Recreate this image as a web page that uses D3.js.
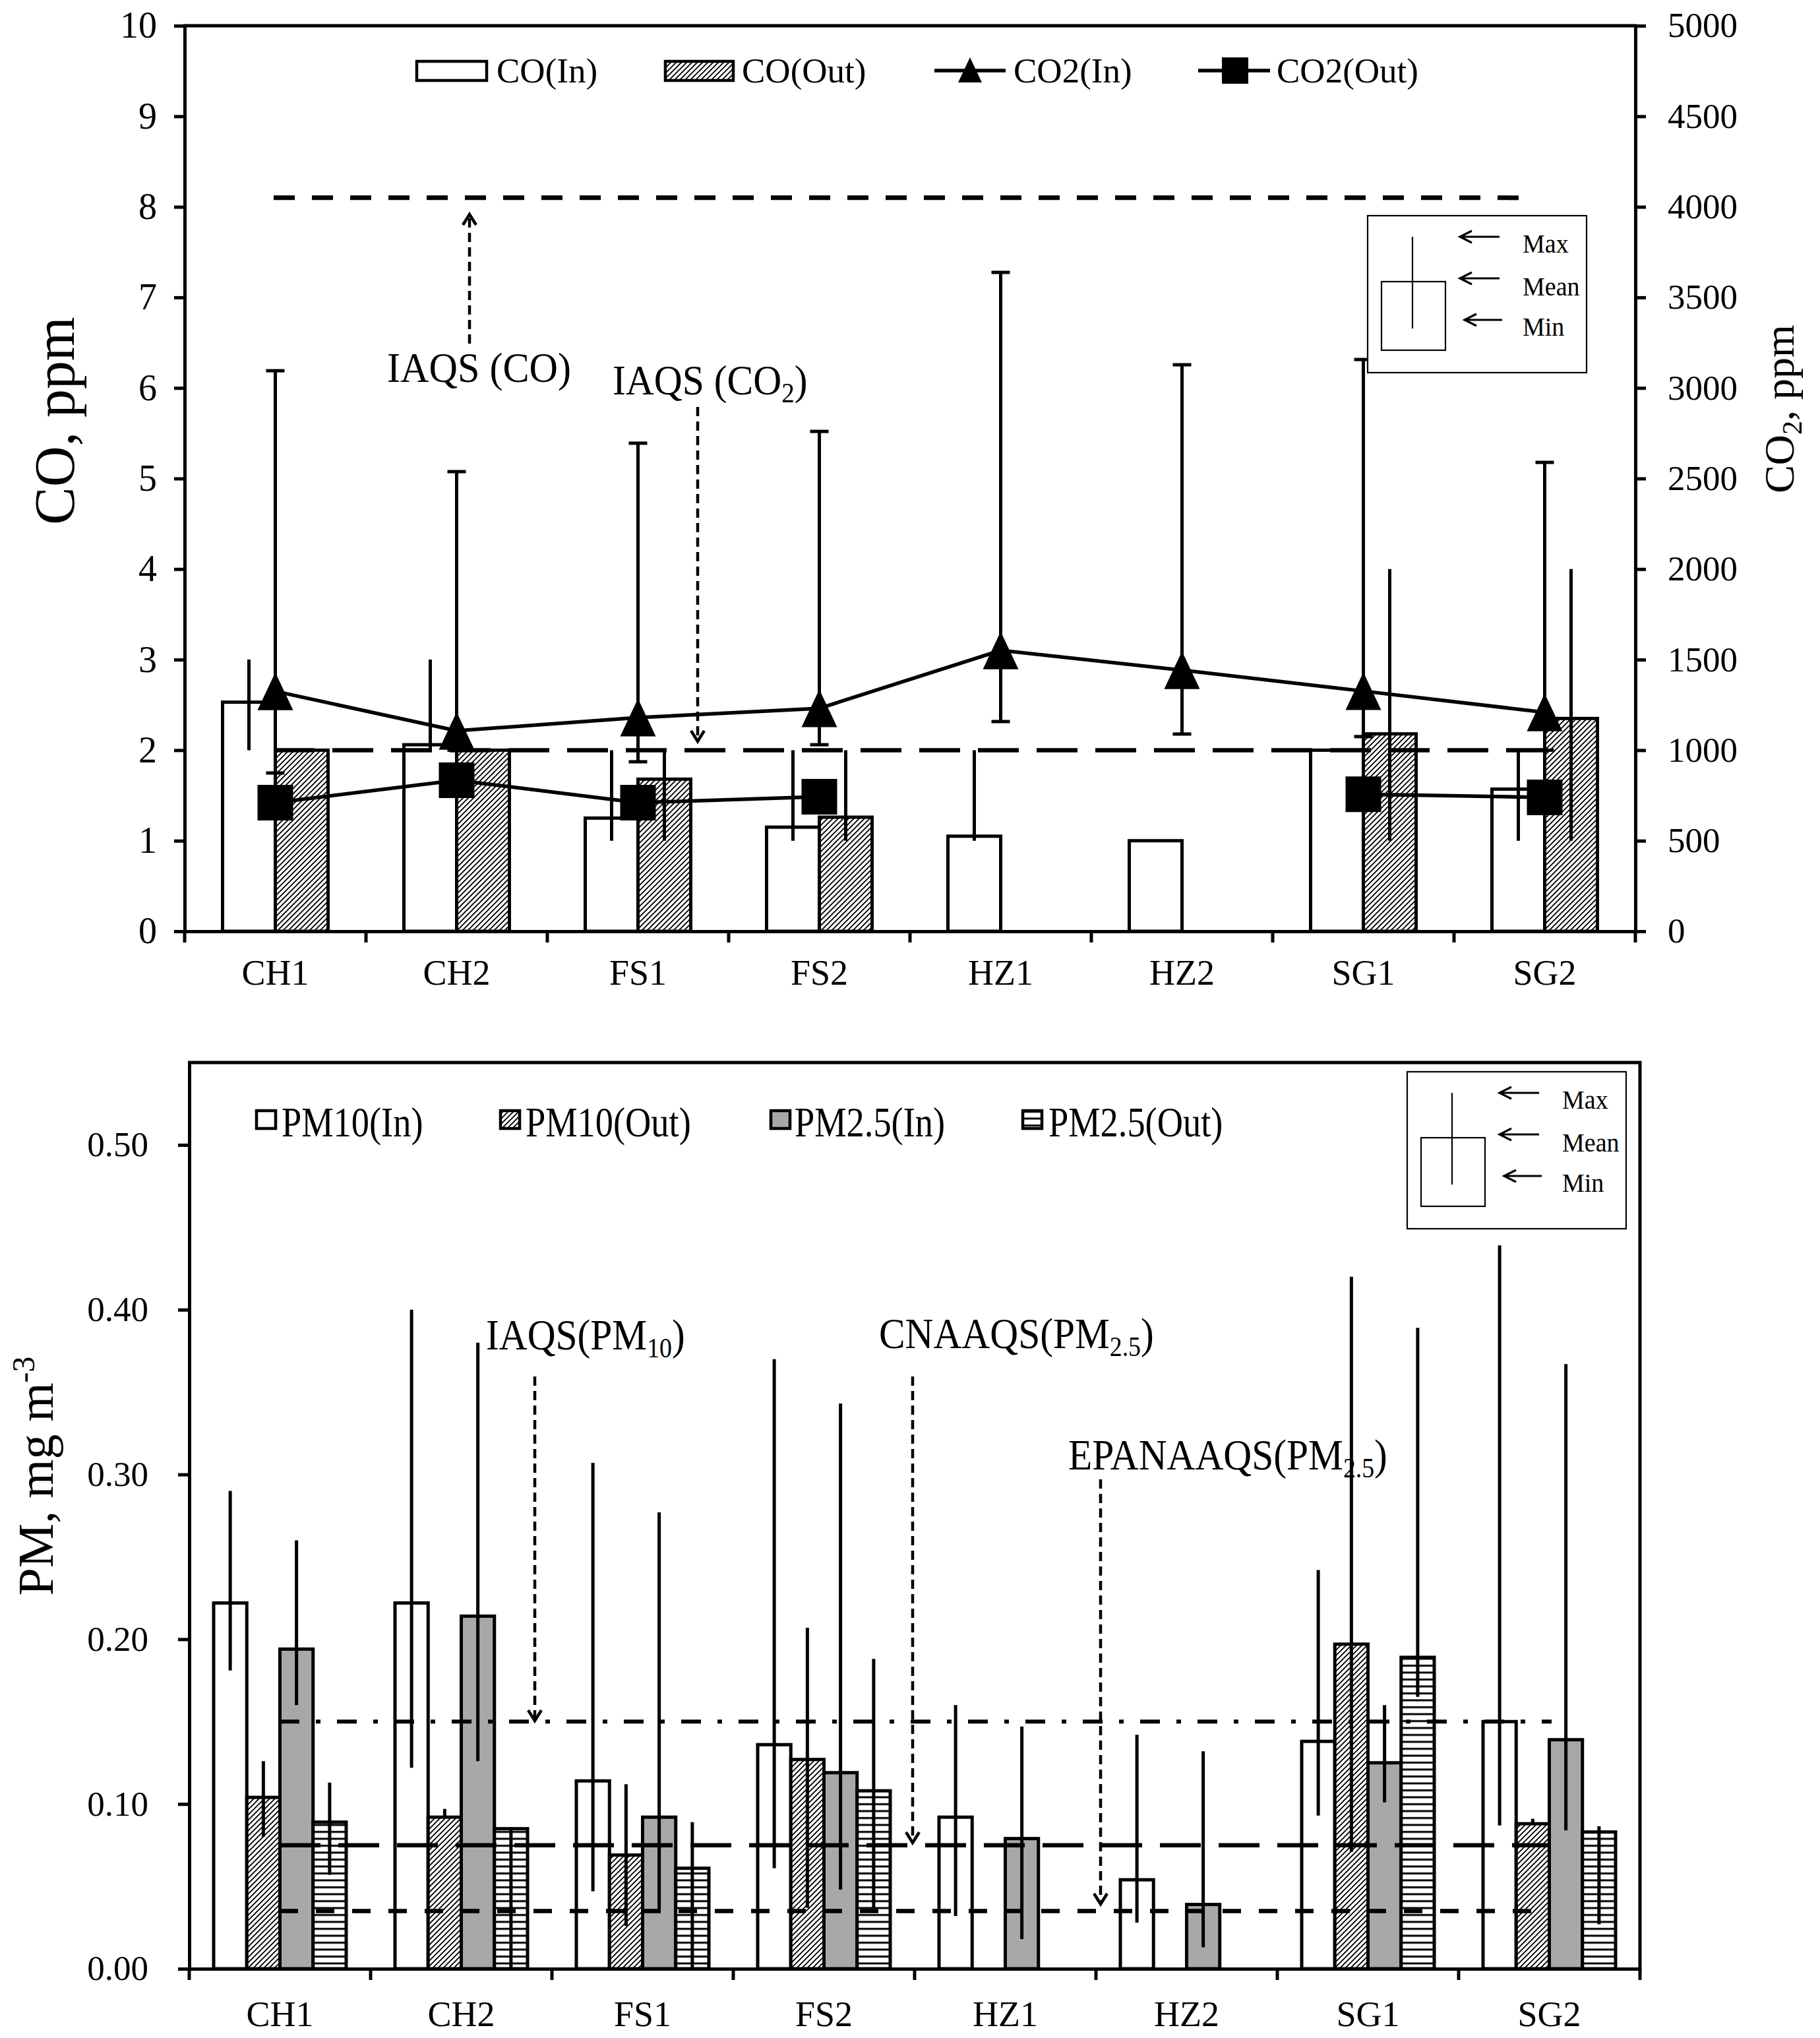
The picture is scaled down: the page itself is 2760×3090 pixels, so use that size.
<!DOCTYPE html>
<html><head><meta charset="utf-8">
<script src="https://cdn.jsdelivr.net/npm/d3@7"></script>
<style>
body{margin:0;background:#fff}
svg{display:block}
text{font-family:"Liberation Serif","Times New Roman",serif;fill:#000}
</style>
</head><body>
<svg id="c" width="2760" height="3090"></svg>
<script>
// ---------------- DATA ----------------
const categories = ["CH1","CH2","FS1","FS2","HZ1","HZ2","SG1","SG2"];

// CO, ppm (bars, left axis)
const coIn     = [2.53, 2.06, 1.25, 1.15, 1.05, 1.00, 2.00, 1.57];
const coInMax  = [3.0, 3.0, 2.0, 2.0, 2.0, null, null, 2.0];
const coInMin  = [2.0, 2.0, 1.0, 1.0, 1.0, null, null, 1.0];
const coOut    = [2.00, 2.00, 1.68, 1.26, null, null, 2.18, 2.35];
const coOutMax = [null, null, 2.0, 2.0, null, null, 4.0, 4.0];
const coOutMin = [null, null, 1.0, 1.0, null, null, 1.0, 1.0];

// CO2, ppm (lines, right axis)
const co2In    = [1325, 1107, 1180, 1231, 1551, 1442, 1326, 1209];
const co2InMax = [3095, 2538, 2695, 2760, 3638, 3128, 3157, 2589];
const co2InMin = [874, 1000, 936, 1030, 1158, 1089, 1075, 1000];
const co2Out   = [710, 834, 710, 743, null, null, 757, 739];

// PM, mg m-3
const pm10In     = [0.222, 0.222, 0.114, 0.136, 0.092, 0.054, 0.138, 0.150];
const pm10InMax  = [0.290, 0.400, 0.307, 0.370, 0.160, 0.142, 0.242, 0.439];
const pm10InMin  = [0.181, 0.122, 0.047, 0.061, 0.032, 0.028, 0.093, 0.087];
const pm10Out    = [0.104, 0.092, 0.069, 0.127, null, null, 0.197, 0.088];
const pm10OutMax = [0.126, 0.097, 0.112, 0.207, null, null, 0.420, 0.091];
const pm10OutMin = [0.080, 0.092, 0.026, 0.037, null, null, 0.071, 0.088];
const pm25In     = [0.194, 0.214, 0.092, 0.119, 0.079, 0.039, 0.125, 0.139];
const pm25InMax  = [0.260, 0.380, 0.277, 0.343, 0.147, 0.132, 0.160, 0.367];
const pm25InMin  = [0.160, 0.126, 0.035, 0.048, 0.018, 0.013, 0.101, 0.084];
const pm25Out    = [0.089, 0.085, 0.061, 0.108, null, null, 0.189, 0.083];
const pm25OutMax = [0.113, 0.086, 0.089, 0.188, null, null, 0.389, 0.0865];
const pm25OutMin = [0.057, 0.000, 0.000, 0.037, null, null, 0.165, 0.027];

// standards
const coStd = 8.1, co2Std = 1000;
const pm10Std = 0.15, cnPm25Std = 0.075, epaPm25Std = 0.035;

// ticks
const coTicks  = [0,1,2,3,4,5,6,7,8,9,10];
const co2Ticks = [0,500,1000,1500,2000,2500,3000,3500,4000,4500,5000];
const pmTicks  = [0,0.1,0.2,0.3,0.4,0.5];

// ---------------- SETUP ----------------
const svg = d3.select("#c");
svg.append("rect").attr("width",2760).attr("height",3090).attr("fill","#fff");
const defs = svg.append("defs");
const pd = defs.append("pattern").attr("id","diag").attr("patternUnits","userSpaceOnUse")
  .attr("width",8).attr("height",8);
pd.append("rect").attr("width",8).attr("height",8).attr("fill","#fff");
pd.append("path").attr("d","M-2,2 L2,-2 M0,8 L8,0 M6,10 L10,6").attr("stroke","#000").attr("stroke-width",1.9);
const ph = defs.append("pattern").attr("id","hor").attr("patternUnits","userSpaceOnUse")
  .attr("width",10).attr("height",10.5);
ph.append("rect").attr("width",10).attr("height",10.5).attr("fill","#fff");
ph.append("rect").attr("y",4).attr("width",10).attr("height",3).attr("fill","#000");
const GRAY = "#a8a8a8";

function txt(g, x, y, s, size, opt={}) {
  const sx = opt.sx || 1, rot = opt.rot || 0;
  const t = g.append("text")
    .attr("transform", `translate(${x},${y}) rotate(${rot}) scale(${sx},1)`)
    .attr("font-size", size)
    .attr("text-anchor", opt.anchor || "start");
  if (Array.isArray(s)) {
    s.forEach(p => {
      const sp = t.append("tspan").text(p.t);
      if (p.size) sp.attr("font-size", p.size);
      if (p.dy) sp.attr("dy", p.dy);
    });
  } else t.text(s);
  return t;
}
function vArrow(g, x, y1, y2) { // dashed arrow from y1 to tip y2
  g.append("line").attr("x1",x).attr("x2",x).attr("y1",y1).attr("y2",y2)
    .attr("stroke","#000").attr("stroke-width",4.5).attr("stroke-dasharray","14,8");
  const d = y2 < y1 ? 1 : -1;
  g.append("path").attr("d",`M${x-10},${y2+16*d} L${x},${y2} L${x+10},${y2+16*d}`)
    .attr("fill","none").attr("stroke","#000").attr("stroke-width",4.5);
}
function hArrow(g, x1, x2, y) { // solid arrow pointing left (tip x2)
  g.append("path").attr("d",`M${x1},${y} L${x2},${y} M${x2+18},${y-9} L${x2},${y} L${x2+18},${y+9}`)
    .attr("fill","none").attr("stroke","#000").attr("stroke-width",3.2);
}
const triType = {draw(ctx, size){ const w=Math.sqrt(size);
  ctx.moveTo(0,-w*0.53); ctx.lineTo(w/2,w*0.53); ctx.lineTo(-w/2,w*0.53); ctx.closePath(); }};
function styleAxis(g, size) {
  g.select(".domain").attr("stroke","#000").attr("stroke-width",5);
  g.selectAll(".tick line").attr("stroke","#000").attr("stroke-width",5);
  g.selectAll(".tick text").attr("font-size",size).attr("font-family","Liberation Serif").attr("fill","#000");
}
function maxMinBox(g, bx, by) {
  g.append("rect").attr("x",bx).attr("y",by).attr("width",332).attr("height",238)
    .attr("fill","#fff").attr("stroke","#000").attr("stroke-width",2.2);
  g.append("rect").attr("x",bx+21).attr("y",by+100).attr("width",97).attr("height",104)
    .attr("fill","none").attr("stroke","#000").attr("stroke-width",2.2);
  g.append("line").attr("x1",bx+68).attr("x2",bx+68).attr("y1",by+32).attr("y2",by+171)
    .attr("stroke","#000").attr("stroke-width",2.2);
  hArrow(g, bx+200, bx+140, by+32);
  hArrow(g, bx+200, bx+140, by+95);
  hArrow(g, bx+204, bx+147, by+158);
  txt(g, bx+235, by+56, "Max", 40, {sx:0.95});
  txt(g, bx+235, by+121, "Mean", 40, {sx:0.95});
  txt(g, bx+235, by+182, "Min", 40, {sx:0.95});
}

// ================= TOP CHART =================
{
  const g = svg.append("g");
  const x = d3.scaleBand().domain(categories).range([280,2480]);
  const yL = d3.scaleLinear().domain([0,10]).range([1412,39]);
  const yR = d3.scaleLinear().domain([0,5000]).range([1412,39]);
  const sub = d3.scaleBand().domain(["In","Out"]).range([-80,80]);
  const cx = c => x(c) + x.bandwidth()/2;

  const bars = [];
  categories.forEach((c,i) => {
    if (coIn[i] != null) bars.push({c, k:"In", v:coIn[i], mx:coInMax[i], mn:coInMin[i]});
    if (coOut[i] != null) bars.push({c, k:"Out", v:coOut[i], mx:coOutMax[i], mn:coOutMin[i]});
  });
  g.selectAll("rect.bar").data(bars).join("rect")
    .attr("x", d => cx(d.c)+sub(d.k)).attr("width", sub.bandwidth())
    .attr("y", d => yL(d.v)).attr("height", d => yL(0)-yL(d.v))
    .attr("fill", d => d.k==="In" ? "#fff" : "url(#diag)")
    .attr("stroke","#000").attr("stroke-width",5);

  // standards
  g.append("line").attr("x1",415).attr("x2",2316).attr("y1",yL(coStd)).attr("y2",yL(coStd))
    .attr("stroke","#000").attr("stroke-width",7).attr("stroke-dasharray","32,26");
  g.append("line").attr("x1",415).attr("x2",2355).attr("y1",yR(co2Std)).attr("y2",yR(co2Std))
    .attr("stroke","#000").attr("stroke-width",6.5).attr("stroke-dasharray","62,27");

  // CO error bars
  g.selectAll("line.err").data(bars.filter(d => d.mx != null)).join("line")
    .attr("x1", d => cx(d.c)+sub(d.k)+sub.bandwidth()/2).attr("x2", d => cx(d.c)+sub(d.k)+sub.bandwidth()/2)
    .attr("y1", d => yL(d.mx)).attr("y2", d => yL(d.mn))
    .attr("stroke","#000").attr("stroke-width",5);

  // CO2 lines
  const ln = d3.line().defined(d => d.v != null).x(d => cx(d.c)).y(d => yR(d.v));
  const inPts = categories.map((c,i) => ({c, v:co2In[i], mx:co2InMax[i], mn:co2InMin[i]}));
  const outPts = categories.map((c,i) => ({c, v:co2Out[i]}));
  g.append("path").attr("d", ln(inPts)).attr("fill","none").attr("stroke","#000").attr("stroke-width",5.5);
  g.append("path").attr("d", ln(outPts)).attr("fill","none").attr("stroke","#000").attr("stroke-width",5.5);
  // CO2 In error bars with caps
  inPts.forEach(d => {
    const X = cx(d.c);
    g.append("line").attr("x1",X).attr("x2",X).attr("y1",yR(d.mx)).attr("y2",yR(d.mn))
      .attr("stroke","#000").attr("stroke-width",5);
    [d.mx, d.mn].forEach(v => g.append("line").attr("x1",X-14).attr("x2",X+14)
      .attr("y1",yR(v)).attr("y2",yR(v)).attr("stroke","#000").attr("stroke-width",5));
  });
  g.selectAll("path.tri").data(inPts).join("path")
    .attr("d", d3.symbol().type(triType).size(54*54))
    .attr("transform", d => `translate(${cx(d.c)},${yR(d.v)})`).attr("fill","#000");
  g.selectAll("path.sq").data(outPts.filter(d => d.v != null)).join("path")
    .attr("d", d3.symbol().type(d3.symbolSquare).size(54*54))
    .attr("transform", d => `translate(${cx(d.c)},${yR(d.v)})`).attr("fill","#000");

  // axes
  const ax = g.append("g").attr("transform","translate(280,0)")
    .call(d3.axisLeft(yL).tickValues(coTicks).tickSize(16).tickPadding(26).tickFormat(d3.format("d")));
  styleAxis(ax, 56);
  const ar = g.append("g").attr("transform","translate(2480,0)")
    .call(d3.axisRight(yR).tickValues(co2Ticks).tickSize(16).tickPadding(33).tickFormat(d3.format("d")));
  styleAxis(ar, 53);
  const axb = g.append("g").attr("transform","translate(0,1412)")
    .call(d3.axisBottom(x).tickSize(0).tickSizeOuter(0));
  styleAxis(axb, 54);
  axb.selectAll(".tick text").attr("dy",null).attr("y",81);
  const bounds = categories.map(c => x(c)).concat([x.range()[1]]);
  g.selectAll("line.bt").data(bounds).join("line")
    .attr("x1",d=>d).attr("x2",d=>d).attr("y1",1412).attr("y2",1429)
    .attr("stroke","#000").attr("stroke-width",5);
  g.append("line").attr("x1",278).attr("x2",2482).attr("y1",39).attr("y2",39)
    .attr("stroke","#000").attr("stroke-width",5);

  // titles
  txt(g, 112, 638, "CO, ppm", 86, {anchor:"middle", rot:-90});
  txt(g, 2720, 620, [{t:"CO"},{t:"2",size:42,dy:12},{t:", ppm",dy:-12}], 64, {anchor:"middle", rot:-90});

  // annotations
  txt(g, 587, 579, "IAQS (CO)", 64, {sx:0.94});
  vArrow(g, 712, 521, 325);
  txt(g, 929, 598, [{t:"IAQS (CO"},{t:"2",size:42,dy:12},{t:")",dy:-12}], 64, {sx:0.93});
  vArrow(g, 1058, 617, 1124);

  // legend
  g.append("rect").attr("x",632).attr("y",93).attr("width",106).attr("height",29)
    .attr("fill","#fff").attr("stroke","#000").attr("stroke-width",4.5);
  txt(g, 753, 125, "CO(In)", 53);
  g.append("rect").attr("x",1009).attr("y",93).attr("width",103).attr("height",29)
    .attr("fill","url(#diag)").attr("stroke","#000").attr("stroke-width",4.5);
  txt(g, 1125, 125, "CO(Out)", 53);
  g.append("line").attr("x1",1417).attr("x2",1525).attr("y1",107).attr("y2",107)
    .attr("stroke","#000").attr("stroke-width",5.5);
  g.append("path").attr("d", d3.symbol().type(triType).size(36*36)()).attr("transform","translate(1471,106)");
  txt(g, 1537, 125, "CO2(In)", 53);
  g.append("line").attr("x1",1817).attr("x2",1926).attr("y1",107).attr("y2",107)
    .attr("stroke","#000").attr("stroke-width",5.5);
  g.append("path").attr("d", d3.symbol().type(d3.symbolSquare).size(40*40)()).attr("transform","translate(1873,107)");
  txt(g, 1936, 125, "CO2(Out)", 53);

  maxMinBox(g, 2074, 327);
}

// ================= BOTTOM CHART =================
{
  const g = svg.append("g");
  const x = d3.scaleBand().domain(categories).range([287,2487]);
  const y = d3.scaleLinear().domain([0,0.55]).range([2985,1611]);
  const keys = ["PM10In","PM10Out","PM25In","PM25Out"];
  const sub = d3.scaleBand().domain(keys).range([-100.5,100.5]);
  const fills = {PM10In:"#fff", PM10Out:"url(#diag)", PM25In:GRAY, PM25Out:"url(#hor)"};
  const cx = c => x(c) + x.bandwidth()/2;
  const series = {
    PM10In:[pm10In,pm10InMax,pm10InMin], PM10Out:[pm10Out,pm10OutMax,pm10OutMin],
    PM25In:[pm25In,pm25InMax,pm25InMin], PM25Out:[pm25Out,pm25OutMax,pm25OutMin]
  };
  const bars = [];
  categories.forEach((c,i) => keys.forEach(k => {
    const [m,mx,mn] = series[k];
    if (m[i] != null) bars.push({c, k, v:m[i], mx:mx[i], mn:mn[i]});
  }));
  g.selectAll("rect.bar").data(bars).join("rect")
    .attr("x", d => cx(d.c)+sub(d.k)).attr("width", sub.bandwidth())
    .attr("y", d => y(d.v)).attr("height", d => y(0)-y(d.v))
    .attr("fill", d => fills[d.k]).attr("stroke","#000").attr("stroke-width",5);

  // standards
  g.append("line").attr("x1",424).attr("x2",2353).attr("y1",y(pm10Std)).attr("y2",y(pm10Std))
    .attr("stroke","#000").attr("stroke-width",6).attr("stroke-dasharray","30,25,7,25");
  g.append("line").attr("x1",424).attr("x2",2348).attr("y1",y(cnPm25Std)).attr("y2",y(cnPm25Std))
    .attr("stroke","#000").attr("stroke-width",6.5).attr("stroke-dasharray","62,27");
  g.append("line").attr("x1",424).attr("x2",2323).attr("y1",y(epaPm25Std)).attr("y2",y(epaPm25Std))
    .attr("stroke","#000").attr("stroke-width",6.5).attr("stroke-dasharray","28,27");

  // error bars
  g.selectAll("line.err").data(bars.filter(d => d.mx != null)).join("line")
    .attr("x1", d => cx(d.c)+sub(d.k)+sub.bandwidth()/2).attr("x2", d => cx(d.c)+sub(d.k)+sub.bandwidth()/2)
    .attr("y1", d => y(d.mx)).attr("y2", d => y(d.mn))
    .attr("stroke","#000").attr("stroke-width",5);

  // axes
  const ax = g.append("g").attr("transform","translate(287,0)")
    .call(d3.axisLeft(y).tickValues(pmTicks).tickSize(17).tickPadding(45).tickSizeOuter(0).tickFormat(d3.format(".2f")));
  styleAxis(ax, 53);
  const axb = g.append("g").attr("transform","translate(0,2985)")
    .call(d3.axisBottom(x).tickSize(0).tickSizeOuter(0));
  styleAxis(axb, 54);
  axb.selectAll(".tick text").attr("dy",null).attr("y",87);
  const bounds = categories.map(c => x(c)).concat([x.range()[1]]);
  g.selectAll("line.bt").data(bounds).join("line")
    .attr("x1",d=>d).attr("x2",d=>d).attr("y1",2985).attr("y2",3002)
    .attr("stroke","#000").attr("stroke-width",5);
  g.append("line").attr("x1",285).attr("x2",2489).attr("y1",1611).attr("y2",1611)
    .attr("stroke","#000").attr("stroke-width",5);
  g.append("line").attr("x1",2487).attr("x2",2487).attr("y1",1609).attr("y2",2987)
    .attr("stroke","#000").attr("stroke-width",5);

  // title
  txt(g, 80, 2238, [{t:"PM, mg m"},{t:"-3",size:48,dy:-28}], 76, {anchor:"middle", rot:-90});

  // annotations
  txt(g, 737, 2046, [{t:"IAQS(PM"},{t:"10",size:42,dy:12},{t:")",dy:-12}], 66, {sx:0.9});
  vArrow(g, 811, 2087, 2609);
  txt(g, 1333, 2044, [{t:"CNAAQS(PM"},{t:"2.5",size:42,dy:12},{t:")",dy:-12}], 66, {sx:0.9});
  vArrow(g, 1384, 2087, 2794);
  txt(g, 1620, 2228, [{t:"EPANAAQS(PM"},{t:"2.5",size:42,dy:12},{t:")",dy:-12}], 66, {sx:0.9});
  vArrow(g, 1669, 2243, 2887);

  // legend
  const leg = [
    {k:"PM10In", bx:389, tx:427, label:"PM10(In)"},
    {k:"PM10Out", bx:759, tx:797, label:"PM10(Out)"},
    {k:"PM25In", bx:1169, tx:1205, label:"PM2.5(In)"},
    {k:"PM25Out", bx:1551, tx:1590, label:"PM2.5(Out)"}
  ];
  leg.forEach(l => {
    g.append("rect").attr("x",l.bx).attr("y",1684).attr("width",29).attr("height",27)
      .attr("fill",fills[l.k]).attr("stroke","#000").attr("stroke-width",4.5);
    txt(g, l.tx, 1723, l.label, 64, {sx:0.85});
  });

  maxMinBox(g, 2134, 1625);
}
</script>
</body></html>
